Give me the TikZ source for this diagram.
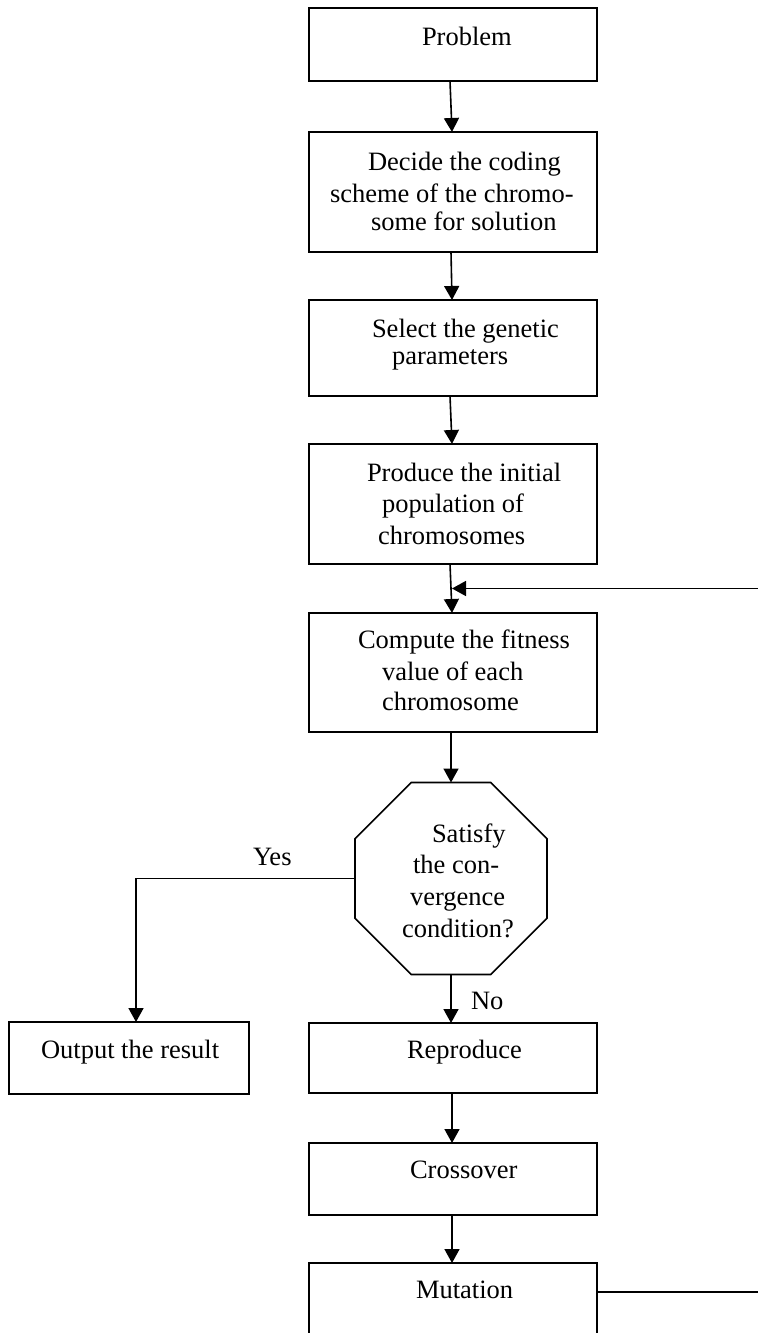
\documentclass[tikz,border=0pt]{standalone}
\usepackage{fontspec}
\setmainfont{Liberation Serif}
\usetikzlibrary{arrows.meta,shapes.geometric,calc}
\begin{document}
\begin{tikzpicture}[x=0.5pt,y=-0.5pt,
 box/.style={draw,line width=0.8pt,rectangle,inner sep=0pt,outer sep=0pt},
 octbox/.style={draw,line width=0.8pt,regular polygon,regular polygon sides=8,inner sep=0pt,outer sep=0pt,minimum size=103.9pt},
 txt/.style={anchor=base west,inner sep=0pt,outer sep=0pt,font=\fontsize{13.25pt}{15pt}\selectfont},
 arr/.style={line width=0.8pt,-{Triangle[width=7.5pt,length=7pt]}},
 ln/.style={line width=0.8pt}]
\useasboundingbox (0,0) rectangle (757,1333);
% boxes
\node[box,minimum width=144pt,minimum height=36.5pt] (prob) at (453,44.5) {};
\node[box,minimum width=144pt,minimum height=60pt] (dec) at (453,192) {};
\node[box,minimum width=144pt,minimum height=48pt] (sel) at (453,348) {};
\node[box,minimum width=144pt,minimum height=60pt] (prod) at (453,504) {};
\node[box,minimum width=144pt,minimum height=59.5pt] (comp) at (453,672.5) {};
\node[octbox] (oct) at (451,878.5) {};
\node[box,minimum width=120pt,minimum height=36pt] (out) at (129,1058) {};
\node[box,minimum width=144pt,minimum height=35pt] (rep) at (453,1058) {};
\node[box,minimum width=144pt,minimum height=36pt] (cross) at (453,1179) {};
\node[box,minimum width=144pt,minimum height=43.5pt] (mut) at (453,1306.5) {};
% texts
\node[txt] (t1) at (422,45) {Problem};
\node[txt] (t2a) at (368,170) {Decide the coding};
\node[txt] (t2b) at (330,202) {scheme of the chromo-};
\node[txt] (t2c) at (371,230) {some for solution};
\node[txt] (t3a) at (372,337) {Select the genetic};
\node[txt] (t3b) at (392,364) {parameters};
\node[txt] (t4a) at (367,481) {Produce the initial};
\node[txt] (t4b) at (382,512) {population of};
\node[txt] (t4c) at (378,544) {chromosomes};
\node[txt] (t5a) at (358,648) {Compute the fitness};
\node[txt] (t5b) at (382,680) {value of each};
\node[txt] (t5c) at (382,710) {chromosome};
\node[txt] (t6a) at (432,842) {Satisfy};
\node[txt] (t6b) at (413,873) {the con-};
\node[txt] (t6c) at (410,905) {vergence};
\node[txt] (t6d) at (402,937) {condition?};
\node[txt] (yes) at (253,865) {Yes};
\node[txt] (no) at (471,1009) {No};
\node[txt] (t7) at (41,1058) {Output the result};
\node[txt] (t8) at (407,1058) {Reproduce};
\node[txt] (t9) at (410,1178) {Crossover};
\node[txt] (t10) at (416,1298) {Mutation};
% connectors
\draw[arr] ([xshift=-1.5pt]prob.south) -- ([xshift=-0.5pt]dec.north);
\draw[arr] ([xshift=-1pt]dec.south) -- ([xshift=-0.5pt]sel.north);
\draw[arr] ([xshift=-1.5pt]sel.south) -- ([xshift=-0.5pt]prod.north);
\draw[arr] ([xshift=-1.5pt]prod.south) -- ([xshift=-0.5pt]comp.north);
\draw[arr] ([xshift=-1pt]comp.south) -- (oct.north);
\draw[arr] (oct.south) -- ([xshift=-1pt]rep.north);
\draw[arr] ([xshift=-0.5pt]rep.south) -- ([xshift=-0.5pt]cross.north);
\draw[arr] ([xshift=-0.5pt]cross.south) -- ([xshift=-0.5pt]mut.north);
\draw[arr] (oct.west) -| ([xshift=3.5pt]out.north);
\coordinate (fb) at ($(prod.south)!0.5!(comp.north)$);
\draw[arr] ([yshift=-14.5pt]mut.north east) -- ++(165,0) |- ([xshift=-0.5pt]fb);
\end{tikzpicture}
\end{document}
